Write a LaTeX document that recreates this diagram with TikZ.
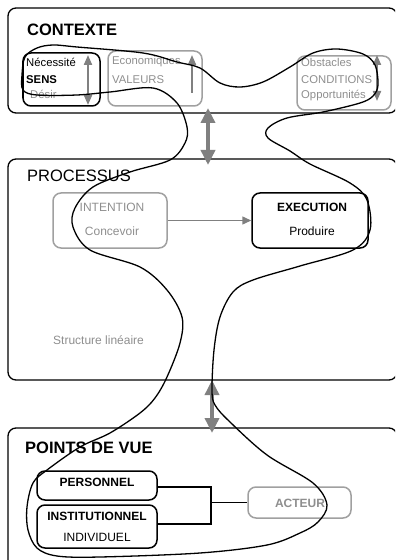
\documentclass[tikz,border=0pt]{standalone}
\usepackage{fontspec}
\setmainfont{Liberation Sans}
\usetikzlibrary{arrows.meta}
\definecolor{txtgray}{HTML}{8E8E8E}
\definecolor{boxgray}{HTML}{A0A0A0}
\definecolor{arrgray}{HTML}{808080}
\begin{document}
\begin{tikzpicture}[x=1bp,y=-1bp,
  outerbox/.style={draw=black, line width=1.3bp, rounded corners=8bp, inner sep=0pt},
  blackbox/.style={draw=black, line width=1.5bp, rounded corners=8bp, inner sep=0pt},
  graybox/.style={draw=boxgray, line width=1.5bp, rounded corners=8bp, inner sep=0pt},
  titletxt/.style={anchor=west, inner sep=0pt, font=\fontsize{16.5bp}{18bp}\selectfont\bfseries},
  ctxtxt/.style={anchor=west, inner sep=0pt, font=\fontsize{11.3bp}{13bp}\selectfont},
  bodytxt/.style={inner sep=0pt, font=\fontsize{12bp}{14bp}\selectfont},
  smallarr/.style={draw=arrgray, line width=2bp, -{Triangle[width=8bp,length=10bp]}},
  smalldarr/.style={draw=arrgray, line width=2bp, {Triangle[width=8bp,length=10bp]}-{Triangle[width=8bp,length=10bp]}},
  bigdarr/.style={draw=arrgray, line width=3.5bp, {Triangle[width=14bp,length=15bp]}-{Triangle[width=14bp,length=15bp]}},
  flowarr/.style={draw=arrgray, line width=1.5bp, -{Triangle[width=8bp,length=9bp]}},
  link/.style={draw=black, line width=1.3bp},
  loop/.style={draw=black, line width=1.3bp}
]
\useasboundingbox (0,0) rectangle (395,560);
\clip (0,0) rectangle (395,560);

% ---------- CONTEXTE ----------
\node[outerbox, minimum width=389bp, minimum height=105bp] (ctx) at (202.5,60.5) {};
\node[titletxt] (ctxtitle) at (27,30) {CONTEXTE};

\node[blackbox, minimum width=77bp, minimum height=53bp] (sensbox) at (61.5,79.5) {};
\node[ctxtxt] (necessite) at (26,62) {Nécessité};
\node[ctxtxt, font=\fontsize{11.3bp}{13bp}\selectfont\bfseries] (sens) at (26,80) {SENS};
\node[ctxtxt, text=txtgray] (desir) at (30,94) {Désir};
\coordinate (sensT) at (88,55);
\coordinate (sensB) at (88,105);
\draw[smalldarr] (sensB) -- (sensT);

\node[graybox, minimum width=94bp, minimum height=55bp] (valbox) at (155,78.5) {};
\node[ctxtxt, text=txtgray] (econ) at (112,62) {Economiques};
\node[ctxtxt, text=txtgray] (valeurs) at (112,80) {VALEURS};
\coordinate (valB) at (192,93);
\coordinate (valT) at (192,55);
\draw[smallarr] (valB) -- (valT);

\node[graybox, minimum width=94bp, minimum height=54bp] (condbox) at (344,83) {};
\node[ctxtxt, text=txtgray] (obst) at (301,62) {Obstacles};
\node[ctxtxt, text=txtgray] (cond) at (301,80) {CONDITIONS};
\node[ctxtxt, text=txtgray] (opp) at (301,96) {Opportunités};
\coordinate (condT) at (377,55);
\coordinate (condB) at (377,101);
\draw[smalldarr] (condB) -- (condT);

% ---------- PROCESSUS ----------
\node[outerbox, minimum width=389bp, minimum height=221bp] (proc) at (202.5,269.5) {};
\node[titletxt, font=\fontsize{16.5bp}{18bp}\selectfont] (proctitle) at (27,176) {PROCESSUS};

\node[graybox, minimum width=114bp, minimum height=55bp] (intbox) at (110,220.5) {};
\node[bodytxt, text=txtgray] (intention) at (112,207) {INTENTION};
\node[bodytxt, text=txtgray] (concevoir) at (112,231) {Concevoir};

\node[blackbox, minimum width=116bp, minimum height=55bp] (exebox) at (310,220.5) {};
\node[bodytxt, font=\fontsize{12bp}{14bp}\selectfont\bfseries] (execution) at (312,207) {EXECUTION};
\node[bodytxt] (produire) at (312,231) {Produire};

\draw[flowarr] (intbox.east) -- (exebox.west);

\node[bodytxt, anchor=west, text=txtgray] (structure) at (53,340) {Structure linéaire};

% ---------- POINTS DE VUE ----------
\node[outerbox, minimum width=389bp, minimum height=152bp] (pdv) at (202.5,504) {};
\node[titletxt] (pdvtitle) at (25,448) {POINTS DE VUE};

\node[blackbox, minimum width=120bp, minimum height=29bp] (persbox) at (97,485.5) {};
\node[bodytxt, font=\fontsize{12bp}{14bp}\selectfont\bfseries] (personnel) at (97,482) {PERSONNEL};

\node[blackbox, minimum width=120bp, minimum height=43bp] (instbox) at (97,526.5) {};
\node[bodytxt, font=\fontsize{12bp}{14bp}\selectfont\bfseries] (institutionnel) at (97,516) {INSTITUTIONNEL};
\node[bodytxt] (individuel) at (97,537) {INDIVIDUEL};

\node[graybox, minimum width=103bp, minimum height=31bp] (acteurbox) at (299.5,502.5) {};
\node[bodytxt, text=txtgray, font=\fontsize{12bp}{14bp}\selectfont\bfseries] (acteur) at (300,503) {ACTEUR};

\coordinate (pe) at (157,487);
\coordinate (ie) at (157,524);
\coordinate (jtop) at (211,487);
\coordinate (jbot) at (211,524);
\coordinate (jmid) at (211,502.5);
\draw[link] (pe) -- (jtop) -- (jbot) -- (ie);
\draw[link] (jmid) -- (acteurbox.west);

% ---------- big arrows ----------
\coordinate (a1T) at (208,108);
\coordinate (a1B) at (208,165);
\draw[bigdarr] (a1B) -- (a1T);
\coordinate (a2T) at (212,380);
\coordinate (a2B) at (212,433);
\draw[bigdarr] (a2B) -- (a2T);

% ---------- freehand loop ----------
\draw[loop] plot[smooth cycle, tension=0.55] coordinates {
(53,45) (77,47) (143,53) (177,62) (200,68) (220,83) (240,87) (263,82) (290,67) (313,53) (337,49) (363,54) (375,65) (378,85) (373,96) (360,103) (323,112) (287,118) (268,128) (268,138) (290,151) (310,164) (350,183) (367,200) (370,230) (353,250) (300,266) (253,280) (233,292) (220,317) (214,350) (212,390) (215,405) (230,422) (267,455) (313,483) (327,505) (318,522) (300,533) (267,545) (200,553) (100,557) (57,556) (37,548) (28,530) (27,507) (33,483) (47,470) (80,447) (110,433) (140,413) (155,398) (167,377) (180,343) (182,317) (167,290) (140,267) (90,250) (73,227) (75,208) (93,187) (130,172) (170,160) (185,143) (187,127) (177,103) (153,88) (110,92) (77,95) (37,95) (23,90) (22,75) (25,57) (37,48)};
\end{tikzpicture}
\end{document}
